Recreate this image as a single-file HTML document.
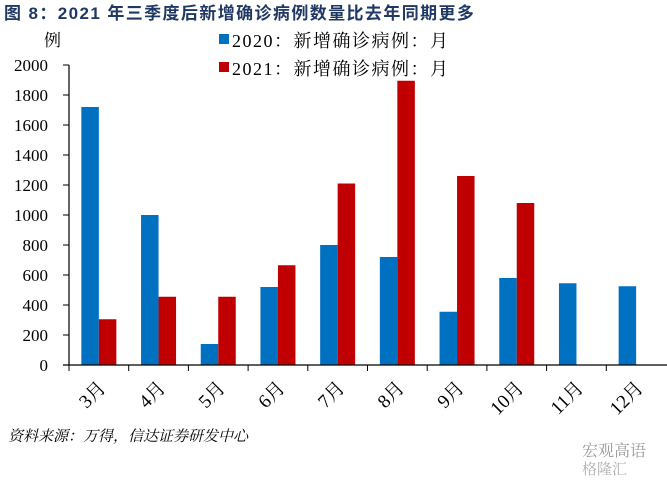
<!DOCTYPE html>
<html><head><meta charset="utf-8"><style>
body{margin:0;background:#fff;width:667px;height:479px;overflow:hidden}
svg text{font-family:"Liberation Serif","Noto Serif CJK SC",serif}
</style></head><body>
<svg width="667" height="479" xmlns="http://www.w3.org/2000/svg">
<text x="4" y="19" font-size="17" font-weight="bold" fill="#1f3864" letter-spacing="1.4" style="font-family:'Liberation Sans','Noto Sans CJK SC',sans-serif">图 8：2021 年三季度后新增确诊病例数量比去年同期更多</text>
<text x="44" y="46" font-size="17" fill="#000">例</text>
<g>
<rect x="219" y="34" width="10" height="10" fill="#0070c0"/>
<text x="232" y="47" font-size="18" letter-spacing="1.5">2020：新增确诊病例：月</text>
<rect x="219" y="62" width="10" height="10" fill="#c00000"/>
<text x="232" y="75" font-size="18" letter-spacing="1.5">2021：新增确诊病例：月</text>
</g>
<g id="plot"></g>
<text x="8" y="441" font-size="15" font-style="italic">资料来源：万得，信达证券研发中心</text>
<text x="582" y="456" font-size="16" fill="#9a9a9a">宏观高语</text>
<text x="582" y="474" font-size="15" fill="#b0b0b0">格隆汇</text>
</svg>
<script>
const categories=["3月","4月","5月","6月","7月","8月","9月","10月","11月","12月"];
const values2020=[1720,1000,140,520,800,720,355,580,545,525];
const values2021=[305,455,455,665,1210,1895,1260,1080,null,null];
const yTicks=[0,200,400,600,800,1000,1200,1400,1600,1800,2000];
const NS="http://www.w3.org/2000/svg";
const g=document.getElementById('plot');
const X0=69,CW=59.7,Y0=365,YMAX=2000,H=300;
const y=v=>Y0-v/YMAX*H;
const x=i=>X0+i*CW;
function mk(t,a){const e=document.createElementNS(NS,t);for(const k in a)e.setAttribute(k,a[k]);g.appendChild(e);return e;}
yTicks.forEach(v=>{
 const t=mk('text',{x:48,y:y(v)+6,'text-anchor':'end','font-size':17});t.textContent=v;
 
 
 const l=mk('line',{x1:63,x2:69,y1:y(v),y2:y(v),stroke:'#000'});
 
 
});
categories.forEach((c,i)=>{
 const bw=17.5,cx=x(i)+CW/2;
 if(values2020[i]!=null){const r=mk('rect',{x:cx-bw,y:y(values2020[i]),width:bw,height:Y0-y(values2020[i]),fill:'#0070c0'});
 
 }
 if(values2021[i]!=null){const r=mk('rect',{x:cx,y:y(values2021[i]),width:bw,height:Y0-y(values2021[i]),fill:'#c00000'});
 
 }
 const tk=mk('line',{x1:x(i),x2:x(i),y1:Y0,y2:Y0+6,stroke:'#000'});
 
 
 const t=mk('text',{x:cx+8,y:Y0+24,'text-anchor':'end','font-size':19,transform:`rotate(-45 ${cx+8} ${Y0+24})`});
 t.textContent=c;
 
 
});
const ax=mk('line',{x1:69,x2:69,y1:y(2000),y2:Y0,stroke:'#000','stroke-width':1.2});


const bx=mk('line',{x1:63,x2:667,y1:Y0,y2:Y0,stroke:'#000','stroke-width':1.2});


</script>
</body></html>
